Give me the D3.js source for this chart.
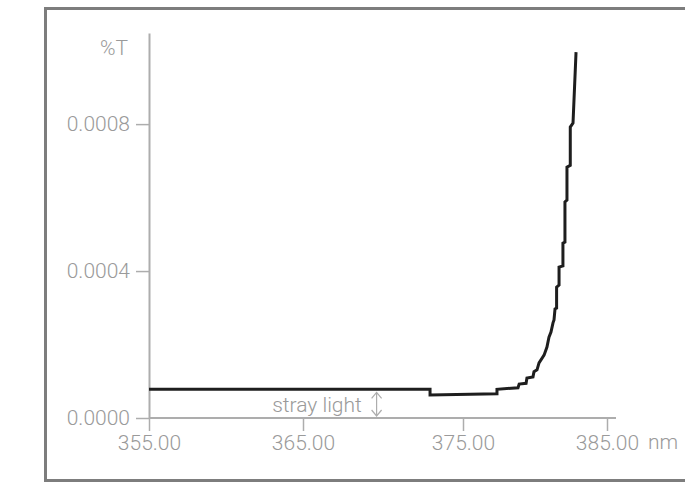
<!DOCTYPE html>
<html>
<head>
<meta charset="utf-8">
<script src="https://cdn.jsdelivr.net/npm/d3@7"></script>
<style>
  html, body { margin: 0; padding: 0; background: #fff; }
  svg { display: block; font-family: Roboto, "Noto Sans", sans-serif; }
</style>
</head>
<body>
<svg id="chart" width="685" height="485"></svg>
<script>
// Transmission spectrum near the cut-off edge (wavelength in nm, transmission in %T)
const wavelength = [355, 372.94, 372.94, 377.36, 377.36, 378.82, 378.9, 379.38, 379.44, 379.86, 379.93,
  380.14, 380.28, 380.63, 380.83, 380.97, 381.11, 381.25, 381.32, 381.39, 381.5, 381.5, 381.67, 381.67,
  381.94, 381.94, 382.08, 382.08, 382.22, 382.22, 382.45, 382.45, 382.64, 382.85];
const transmission = [0.000078, 0.000078, 0.0000625, 0.000066, 0.000078, 0.0000824, 0.0000925, 0.0000944,
  0.000109, 0.000112, 0.000126, 0.000131, 0.000150, 0.000171, 0.000193, 0.000220, 0.000234, 0.000259,
  0.000267, 0.000297, 0.000299, 0.000356, 0.000362, 0.000411, 0.000414, 0.000476, 0.000479, 0.000588,
  0.000593, 0.000683, 0.000688, 0.000792, 0.000803, 0.000996];

const xTicks = [355, 365, 375, 385];
const xTickLabels = ["355.00", "365.00", "375.00", "385.00"];
const yTicks = [0, 0.0004, 0.0008];
const yTickLabels = ["0.0000", "0.0004", "0.0008"];
const strayLevel = 0.000078;

const svg = d3.select("#chart");
const grey = "#9a9a9a";
const axisGrey = "#adadad";
const fontSize = 21;

// outer frame
svg.append("rect")
  .attr("x", 45.5).attr("y", 8.5)
  .attr("width", 660).attr("height", 472)
  .attr("fill", "none").attr("stroke", "#7d7d7d").attr("stroke-width", 3);

const x = d3.scaleLinear().domain([355, 365, 375, 385]).range([149, 303, 463, 607]);
const y = d3.scaleLinear().domain([0, 0.001048]).range([418, 33]);

// y axis
const yAxis = svg.append("g").attr("transform", `translate(${x(355)},0)`)
  .call(d3.axisLeft(y).tickValues(yTicks).tickFormat((d, i) => yTickLabels[i])
    .tickSize(13).tickSizeOuter(0).tickPadding(6));
yAxis.select(".domain").attr("stroke", axisGrey).attr("stroke-width", 2);
yAxis.selectAll(".tick line").attr("stroke", axisGrey).attr("stroke-width", 1.5);
yAxis.selectAll(".tick text").attr("fill", grey).attr("font-size", fontSize)
  .attr("font-family", "Roboto").attr("font-weight", 300);

// x axis
const xAxis = svg.append("g").attr("transform", `translate(0,${y(0)})`)
  .call(d3.axisBottom(x).tickValues(xTicks).tickFormat((d, i) => xTickLabels[i])
    .tickSize(13).tickSizeOuter(0).tickPadding(4));
xAxis.select(".domain").remove();
xAxis.append("line")
  .attr("x1", x(355)).attr("x2", x(385) + 9)
  .attr("stroke", axisGrey).attr("stroke-width", 2);
xAxis.selectAll(".tick line").attr("stroke", axisGrey).attr("stroke-width", 1.5);
xAxis.selectAll(".tick text").attr("fill", grey).attr("font-size", fontSize)
  .attr("font-family", "Roboto").attr("font-weight", 300);

// unit labels
svg.append("text").attr("x", 128).attr("y", 55).attr("text-anchor", "end")
  .attr("fill", grey).attr("font-size", fontSize).attr("font-weight", 300).text("%T");
svg.append("text").attr("x", 648).attr("y", 449)
  .attr("fill", grey).attr("font-size", fontSize).attr("font-weight", 300).text("nm");

// spectrum line
const pts = wavelength.map((w, i) => [w, transmission[i]]);
svg.append("path")
  .datum(pts)
  .attr("fill", "none")
  .attr("stroke", "#1e1e1e")
  .attr("stroke-width", 3)
  .attr("stroke-linejoin", "miter")
  .attr("d", d3.line().x(d => x(d[0])).y(d => y(d[1])));

// stray light annotation
svg.append("text").attr("x", 317).attr("y", 412).attr("text-anchor", "middle")
  .attr("fill", grey).attr("font-size", fontSize).attr("font-weight", 300).text("stray light");
const ax = x(369.6);
const aTop = y(strayLevel) + 3, aBot = y(0) - 2;
svg.append("path")
  .attr("d", `M${ax},${aTop}V${aBot}M${ax - 5},${aTop + 6}L${ax},${aTop}L${ax + 5},${aTop + 6}` +
    `M${ax - 5},${aBot - 6}L${ax},${aBot}L${ax + 5},${aBot - 6}`)
  .attr("fill", "none").attr("stroke", axisGrey).attr("stroke-width", 1.2);
</script>
</body>
</html>
